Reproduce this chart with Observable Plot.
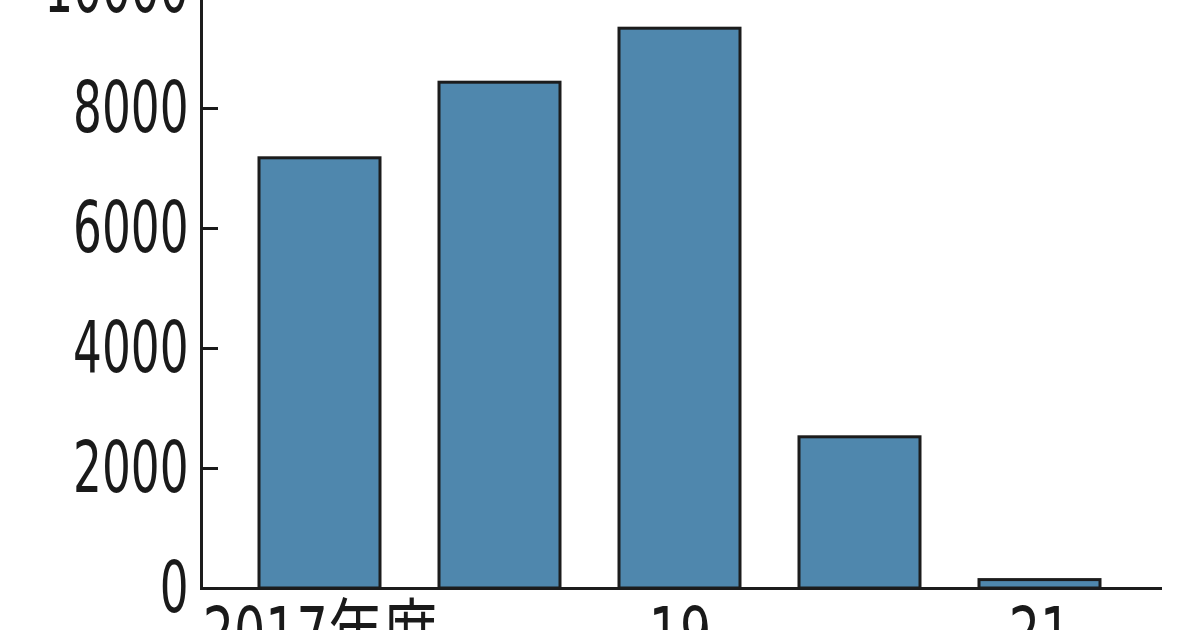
<!DOCTYPE html>
<html><head><meta charset="utf-8">
<script src="https://cdn.jsdelivr.net/npm/d3@7"></script>
<script src="https://cdn.jsdelivr.net/npm/@observablehq/plot@0.6"></script>
<style>
html,body{margin:0;padding:0;background:#fff;overflow:hidden;width:1200px;height:630px;}
#chart{margin-top:-12px;}
</style></head><body><div id="chart"></div>
<script>
const years = ["2017年度","18","19","20","21"];
const tickLabels = ["2017年度","","19","","21"];
const values = [7170, 8430, 9330, 2520, 140];
const yTicks = [0,2000,4000,6000,8000,10000];
const data = years.map((year,i)=>({year, value: values[i]}));
const font = '"Liberation Sans Narrow","DejaVu Sans Condensed","Noto Sans CJK JP",sans-serif';
const chart = Plot.plot({
  width:1200, height:680, marginLeft:201, marginRight:38, marginTop:0, marginBottom:80,
  style:{fontFamily: font, fontSize:"72px", color:"#1a1a1a", background:"#fff"},
  x:{domain: years, paddingInner:0.33, paddingOuter:0.33, align:0.48, label:null},
  y:{domain:[0,10000], label:null},
  marks:[
    Plot.barY(data,{x:"year",y:"value",fill:"#4f87ad",stroke:"#1c1c1c",strokeWidth:3}),
    Plot.ruleY([0],{stroke:"#1c1c1c",strokeWidth:3}),
    Plot.frame({anchor:"left", stroke:"#1c1c1c", strokeWidth:3}),
    Plot.axisY({ticks:yTicks, tickSize:-17, tickPadding:30, strokeWidth:3, tickFormat: d=>String(d), label:null}),
    Plot.axisX({tickSize:0, tickPadding:18, tickFormat:d=>tickLabels[years.indexOf(d)], label:null})
  ]
});
document.getElementById("chart").appendChild(chart);
// condense the tick labels horizontally, like the narrow face of the original
function condense(sel, k) {
  d3.select(chart).selectAll(sel).each(function(){
    const w = this.getComputedTextLength();
    if (w > 0) {
      this.setAttribute("textLength", (w * k).toFixed(1));
      this.setAttribute("lengthAdjust", "spacingAndGlyphs");
    }
  });
}
condense('g[aria-label="y-axis tick label"] text', 0.7);
condense('g[aria-label="x-axis tick label"] text', 0.76);
</script></body></html>
